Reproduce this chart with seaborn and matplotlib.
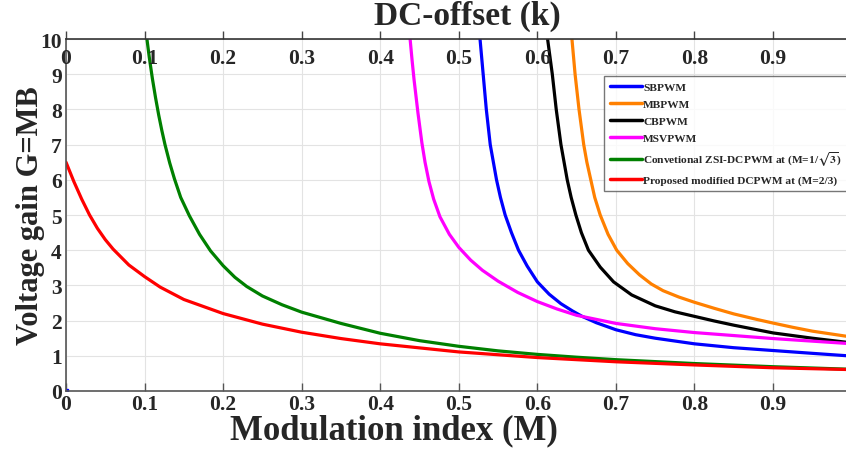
import numpy as np
import pandas as pd
import matplotlib
matplotlib.use("Agg")
import matplotlib.pyplot as plt
import seaborn as sns

# ---- data ----
sb_M = [0.527, 0.529, 0.531, 0.535, 0.540, 0.544, 0.548, 0.553, 0.559, 0.567, 0.576, 0.587, 0.600,
        0.615, 0.630, 0.645, 0.657, 0.675, 0.700, 0.725, 0.750, 0.800, 0.850, 0.900, 0.950, 0.995]
sb_G = [10.0, 9.5, 9.0, 8.0, 7.0, 6.5, 6.0, 5.5, 5.0, 4.5, 4.0, 3.55, 3.10,
        2.75, 2.48, 2.27, 2.12, 1.94, 1.74, 1.60, 1.50, 1.34, 1.23, 1.15, 1.07, 1.00]

mb_M = [0.644, 0.646, 0.648, 0.653, 0.659, 0.663, 0.668, 0.673, 0.680, 0.690, 0.701, 0.715, 0.730,
        0.745, 0.760, 0.780, 0.800, 0.825, 0.850, 0.880, 0.900, 0.925, 0.950, 0.995]
mb_G = [10.0, 9.5, 9.0, 8.0, 7.0, 6.5, 6.0, 5.5, 5.0, 4.45, 4.0, 3.62, 3.30,
        3.04, 2.85, 2.67, 2.52, 2.35, 2.19, 2.03, 1.93, 1.81, 1.70, 1.55]

cb_M = [0.613, 0.616, 0.619, 0.624, 0.630, 0.634, 0.638, 0.643, 0.649, 0.656, 0.665, 0.680, 0.697,
        0.720, 0.750, 0.775, 0.800, 0.825, 0.850, 0.900, 0.950, 0.995]
cb_G = [10.0, 9.5, 9.0, 8.0, 7.0, 6.5, 6.0, 5.5, 5.0, 4.5, 4.0, 3.52, 3.10,
        2.73, 2.42, 2.25, 2.12, 1.99, 1.87, 1.65, 1.50, 1.38]

msv_M = [0.438, 0.4405, 0.443, 0.448, 0.453, 0.457, 0.462, 0.468, 0.476, 0.488, 0.500, 0.515, 0.530,
         0.550, 0.575, 0.600, 0.625, 0.650, 0.700, 0.750, 0.800, 0.900, 0.995]
msv_G = [10.0, 9.4, 8.85, 7.9, 7.05, 6.5, 5.95, 5.45, 4.95, 4.45, 4.08, 3.72, 3.43,
         3.12, 2.80, 2.54, 2.33, 2.15, 1.92, 1.77, 1.66, 1.49, 1.35]

conv_M = [0.103, 0.106, 0.110, 0.114, 0.118, 0.122, 0.126, 0.132, 0.138, 0.146, 0.157, 0.170, 0.184,
          0.200, 0.215, 0.230, 0.250, 0.275, 0.300, 0.350, 0.400, 0.450, 0.500, 0.550, 0.600, 0.650,
          0.700, 0.800, 0.900, 0.995]
conv_G = [10.0, 9.48, 8.87, 8.33, 7.84, 7.40, 7.0, 6.48, 6.03, 5.50, 4.98, 4.45, 3.98,
          3.56, 3.23, 2.97, 2.70, 2.45, 2.24, 1.92, 1.64, 1.43, 1.27, 1.14, 1.04, 0.96,
          0.89, 0.78, 0.69, 0.62]

prop_M = [0.0, 0.010, 0.020, 0.030, 0.040, 0.050, 0.060, 0.080, 0.100, 0.120, 0.150, 0.200, 0.250,
          0.300, 0.350, 0.400, 0.500, 0.600, 0.700, 0.800, 0.900, 0.995]
prop_G = [6.50, 5.95, 5.45, 5.0, 4.62, 4.30, 4.03, 3.58, 3.25, 2.95, 2.60, 2.20, 1.90,
          1.67, 1.49, 1.34, 1.11, 0.95, 0.83, 0.74, 0.66, 0.61]

origin_M = [0.0]
origin_G = [0.0]

labels = ["SBPWM", "MBPWM", "CBPWM", "MSVPWM",
          r"Convetional ZSI-DCPWM at (M=1/$\sqrt{3}$)",
          "Proposed modified DCPWM at (M=2/3)"]
colors = ["#0000FF", "#FF8000", "#000000", "#FF00FF", "#008000", "#FF0000"]

x_ticks = [0, 0.1, 0.2, 0.3, 0.4, 0.5, 0.6, 0.7, 0.8, 0.9]
x_ticklabels = ["0", "0.1", "0.2", "0.3", "0.4", "0.5", "0.6", "0.7", "0.8", "0.9"]
y_ticks = list(range(0, 11))

series = [(sb_M, sb_G), (mb_M, mb_G), (cb_M, cb_G), (msv_M, msv_G), (conv_M, conv_G), (prop_M, prop_G)]
frames = []
for lab, (m, g) in zip(labels, series):
    frames.append(pd.DataFrame({"M": m, "G": g, "scheme": lab}))
df = pd.concat(frames, ignore_index=True)

# ---- styling ----
sns.set_theme(style="white")
plt.rcParams["font.family"] = ["Liberation Serif", "DejaVu Serif"]
plt.rcParams["font.weight"] = "bold"
plt.rcParams["mathtext.fontset"] = "stix"
plt.rcParams["mathtext.default"] = "bf"

fig = plt.figure(figsize=(8.46, 4.52), dpi=100)
ax = fig.add_axes([66/846, 1 - 392/452, 1 - 66/846 + 0.002, (392 - 40)/452])

sns.lineplot(data=df, x="M", y="G", hue="scheme", hue_order=labels,
             palette=dict(zip(labels, colors)), sort=False, estimator=None,
             linewidth=2.3, ax=ax)
ax.plot(origin_M, origin_G, marker="s", markersize=3, color="#0000FF", linestyle="none")

ax.set_xlim(0, 0.995)
ax.set_ylim(0, 10)
ax.set_xticks(x_ticks)
ax.set_xticklabels(x_ticklabels)
ax.set_yticks(y_ticks)
ax.grid(True, color="#e3e3e3", linewidth=0.8)
ax.tick_params(axis="x", direction="in", length=6, width=1, color="#555555",
               labelsize=15.5, pad=2.5)
ax.tick_params(axis="y", direction="in", length=6, width=1, color="#555555",
               labelsize=15.5, pad=3)
for lab in ax.get_xticklabels() + ax.get_yticklabels():
    lab.set_fontweight("bold")
for side in ["left", "bottom"]:
    ax.spines[side].set_color("#555555")
    ax.spines[side].set_linewidth(1.2)
ax.spines["right"].set_visible(False)
ax.spines["top"].set_visible(False)

ax.set_xlabel("Modulation index (M)", fontsize=25, fontweight="bold")
ax.set_ylabel("Voltage gain G=MB", fontsize=22, fontweight="bold")
ax.xaxis.set_label_coords((393 - 66) / 780, -0.064)
ax.yaxis.set_label_coords(-0.027, 0.5)

# top axis (DC-offset)
ax2 = ax.twiny()
ax2.set_xlim(ax.get_xlim())
ax2.set_xticks(x_ticks)
ax2.set_xticklabels(x_ticklabels)
ax2.tick_params(axis="x", direction="out", length=6, width=1, color="#444444",
                labelsize=15.5, pad=-27)
for lab in ax2.get_xticklabels():
    lab.set_fontweight("bold")
for side in ["left", "right", "bottom"]:
    ax2.spines[side].set_visible(False)
ax2.spines["top"].set_color("#333333")
ax2.spines["top"].set_linewidth(1.2)
ax2.set_xlabel("DC-offset (k)", fontsize=24, fontweight="bold")
ax2.xaxis.set_label_coords((467 - 66) / 780, 1.024)
ax2.xaxis.label.set_verticalalignment("bottom")

leg = ax.legend(loc="upper left", bbox_to_anchor=(604/846, 1 - 77/452),
                bbox_transform=fig.transFigure, fontsize=8.2, frameon=True,
                fancybox=False, handlelength=2.8, handletextpad=0.15,
                labelspacing=0.62, borderpad=0.5, borderaxespad=0)
leg.get_frame().set_edgecolor("#555555")
leg.get_frame().set_linewidth(1.0)
for t in leg.get_texts():
    t.set_fontweight("bold")
for h in leg.get_lines():
    h.set_linewidth(2.5)
leg.remove()
ax2.add_artist(leg)

fig.savefig("out.png", dpi=100)
